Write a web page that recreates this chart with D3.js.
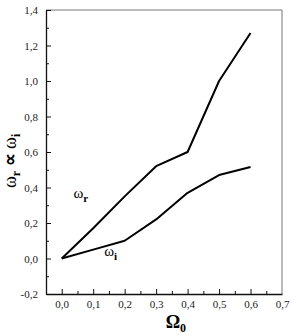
<!DOCTYPE html>
<html>
<head>
<meta charset="UTF-8" />
<script src="https://d3js.org/d3.v7.min.js"></script>
<style>
  body { margin: 0; background: #fff; }
  svg text { font-family: "Liberation Serif", "Times New Roman", serif !important; }
</style>
</head>
<body>
<div id="chart"></div>
<script>
// data
var omega0 = [0.0, 0.1, 0.2, 0.3, 0.4, 0.5, 0.6];
var omegaR = [0.0, 0.17, 0.35, 0.52, 0.60, 1.00, 1.27];
var omegaI = [0.0, 0.05, 0.10, 0.22, 0.37, 0.47, 0.515];
var xTicks = [0.0, 0.1, 0.2, 0.3, 0.4, 0.5, 0.6, 0.7];
var yTicks = [-0.2, 0.0, 0.2, 0.4, 0.6, 0.8, 1.0, 1.2, 1.4];

var W = 296, H = 336;
var margin = {top: 10, right: 14, bottom: 42, left: 46};
var width = W - margin.left - margin.right,
    height = H - margin.top - margin.bottom;

var svg = d3.select("#chart").append("svg")
    .attr("width", W).attr("height", H)
  .append("g")
    .attr("transform", "translate(" + margin.left + "," + margin.top + ")");

var x = d3.scaleLinear().domain([-0.05, 0.7]).range([0, width]);
var y = d3.scaleLinear().domain([-0.2, 1.4]).range([height, 0]);

var fmt = function(d) { return d3.format(".1f")(d).replace(".", ",").replace("−", "-"); };

// frame: top and right lighter
svg.append("line").attr("x1", 0).attr("x2", width).attr("y1", 0).attr("y2", 0)
  .attr("stroke", "#777").attr("stroke-width", 1);
svg.append("line").attr("x1", width).attr("x2", width).attr("y1", 0).attr("y2", height)
  .attr("stroke", "#777").attr("stroke-width", 1);

// minor ticks
var xMinor = d3.range(0.05, 0.7, 0.1);
var yMinor = d3.range(-0.1, 1.4, 0.2);

var xAxis = svg.append("g").attr("transform", "translate(0," + height + ")")
  .call(d3.axisBottom(x).tickValues(xTicks).tickFormat(fmt).tickSizeInner(-5).tickSizeOuter(0).tickPadding(6));
xAxis.selectAll(".tick").filter(function(d) { return d === 0.7; }).select("line").remove();
svg.append("g").attr("transform", "translate(0," + height + ")")
  .call(d3.axisBottom(x).tickValues(xMinor).tickFormat("").tickSizeInner(-3).tickSizeOuter(0))
  .select(".domain").remove();

var yAxis = svg.append("g")
  .call(d3.axisLeft(y).tickValues(yTicks).tickFormat(fmt).tickSizeInner(-5).tickSizeOuter(0).tickPadding(8));
svg.append("g")
  .call(d3.axisLeft(y).tickValues(yMinor).tickFormat("").tickSizeInner(-3).tickSizeOuter(0))
  .select(".domain").remove();

svg.selectAll(".domain").attr("stroke", "#111").attr("stroke-width", 1.3);
svg.selectAll(".tick line").attr("stroke", "#111");
svg.selectAll(".tick text").attr("font-size", 11).attr("fill", "#222");

// lines
var line = d3.line().x(function(d) { return x(d[0]); }).y(function(d) { return y(d[1]); });
[omegaR, omegaI].forEach(function(s) {
  svg.append("path")
    .datum(omega0.map(function(v, i) { return [v, s[i]]; }))
    .attr("fill", "none").attr("stroke", "#000").attr("stroke-width", 2)
    .attr("stroke-linejoin", "round")
    .attr("d", line);
});

// curve labels
function omegaLabel(px, py, sub) {
  var t = svg.append("text").attr("x", px).attr("y", py).attr("font-size", 15);
  t.append("tspan").text("ω");
  t.append("tspan").attr("dy", 4).attr("font-size", 11).attr("font-weight", "bold").text(sub);
}
omegaLabel(x(0.037), y(0.34), "r");
omegaLabel(x(0.135), y(0.015), "i");

// axis titles
var xl = svg.append("text").attr("x", x(0.35) + 4).attr("y", height + 34)
  .attr("text-anchor", "middle").attr("font-size", 18).attr("font-weight", "bold");
xl.append("tspan").text("Ω");
xl.append("tspan").attr("dy", 4).attr("font-size", 12).text("0");

var yl = svg.append("text")
  .attr("transform", "translate(" + (-30) + "," + (y(0.55)) + ") rotate(-90)")
  .attr("text-anchor", "middle").attr("font-size", 18);
yl.append("tspan").text("ω");
yl.append("tspan").attr("dy", 4).attr("font-size", 12).attr("font-weight", "bold").text("r");
yl.append("tspan").attr("dy", -4).attr("font-weight", "bold").text(" ∝ ");
yl.append("tspan").text("ω");
yl.append("tspan").attr("dy", 4).attr("font-size", 12).attr("font-weight", "bold").text("i");
</script>
</body>
</html>
